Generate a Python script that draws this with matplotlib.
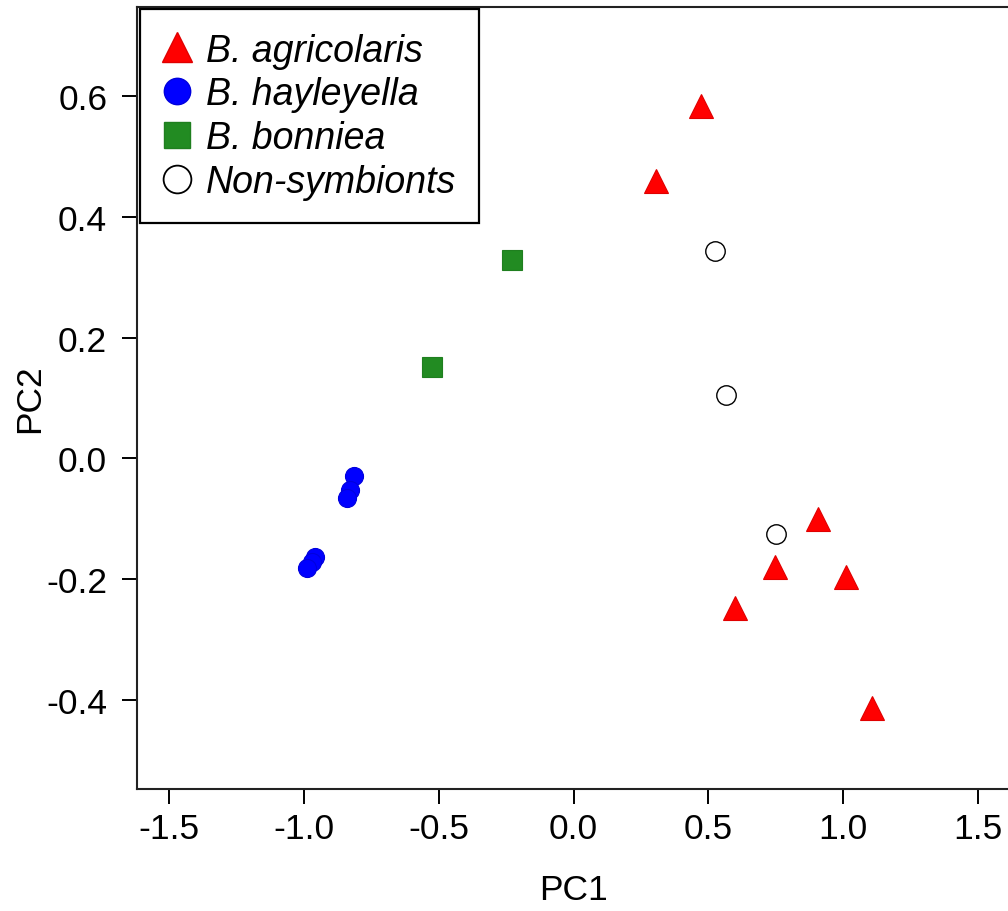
import matplotlib
matplotlib.use('Agg')
import matplotlib.pyplot as plt
from matplotlib.lines import Line2D
import numpy as np

plt.rcParams['font.family'] = ['Liberation Sans', 'DejaVu Sans']

# PCA scores
agri_pc1 = [0.473, 0.305, 0.909, 0.749, 1.013, 0.600, 1.106]
agri_pc2 = [0.584, 0.459, -0.101, -0.180, -0.196, -0.248, -0.413]
hayl_pc1 = [-0.815, -0.830, -0.840, -0.960, -0.972, -0.990]
hayl_pc2 = [-0.030, -0.052, -0.065, -0.163, -0.172, -0.182]
bonn_pc1 = [-0.227, -0.525]
bonn_pc2 = [0.328, 0.151]
non_pc1 = [0.525, 0.566, 0.752]
non_pc2 = [0.343, 0.105, -0.126]

groups = ['B. agricolaris', 'B. hayleyella', 'B. bonniea', 'Non-symbionts']
xticks = [-1.5, -1.0, -0.5, 0.0, 0.5, 1.0, 1.5]
yticks = [-0.4, -0.2, 0.0, 0.2, 0.4, 0.6]

W, H = 1008, 912
fig = plt.figure(figsize=(W / 100, H / 100), dpi=100)
# plot box: left 137px, right ~1010px (off the edge), top 8px, bottom 790px
ax = fig.add_axes([137 / W, 1 - 790 / H, (1010 - 137) / W, (790 - 8) / H])

red, blue, green = '#ff0000', '#0000ff', '#228b22'
ax.plot(agri_pc1, agri_pc2, '^', ms=17, color=red, mec='#e00000', mew=0.8, ls='none')
ax.plot(hayl_pc1, hayl_pc2, 'o', ms=13, color=blue, mec='#0000dd', mew=0.8, ls='none')
ax.plot(bonn_pc1, bonn_pc2, 's', ms=14, color=green, mec='#1f7f1f', mew=0.8, ls='none')
ax.plot(non_pc1, non_pc2, 'o', ms=14, mfc='white', mec='black', mew=1.0, ls='none')

ax.set_xlim(-1.62, 1.62)
ax.set_ylim(-0.548, 0.748)
ax.set_xticks(xticks)
ax.set_yticks(yticks)
ax.set_xticklabels(['%.1f' % v for v in xticks])
ax.set_yticklabels(['%.1f' % v for v in yticks])
ax.tick_params(labelsize=25.5, length=10.5, width=1.4, colors='black')
ax.tick_params(axis='x', pad=6)
ax.tick_params(axis='y', pad=11)
for s in ax.spines.values():
    s.set_linewidth(1.5)
    s.set_color('#222222')

ax.set_xlabel('PC1', fontsize=25.5, labelpad=20)
ax.set_ylabel('PC2', fontsize=25.5, labelpad=0)

# legend symbols are drawn larger than the points
handles = [
    Line2D([], [], marker='^', ms=21, color=red, mec='#e00000', ls='none'),
    Line2D([], [], marker='o', ms=19, color=blue, mec='#0000dd', ls='none'),
    Line2D([], [], marker='s', ms=19, color=green, mec='#1f7f1f', ls='none'),
    Line2D([], [], marker='o', ms=20, mfc='white', mec='black', mew=1.3, ls='none'),
]
leg = ax.legend(handles, groups, loc='upper left', bbox_to_anchor=(0.003, 0.997),
                borderaxespad=0, fancybox=False, edgecolor='black', framealpha=1,
                prop={'size': 27, 'style': 'italic'}, handletextpad=0.4,
                handlelength=0.75, labelspacing=0.21, borderpad=0.62)
leg.get_frame().set_linewidth(1.6)

fig.savefig('out.png', dpi=100)
